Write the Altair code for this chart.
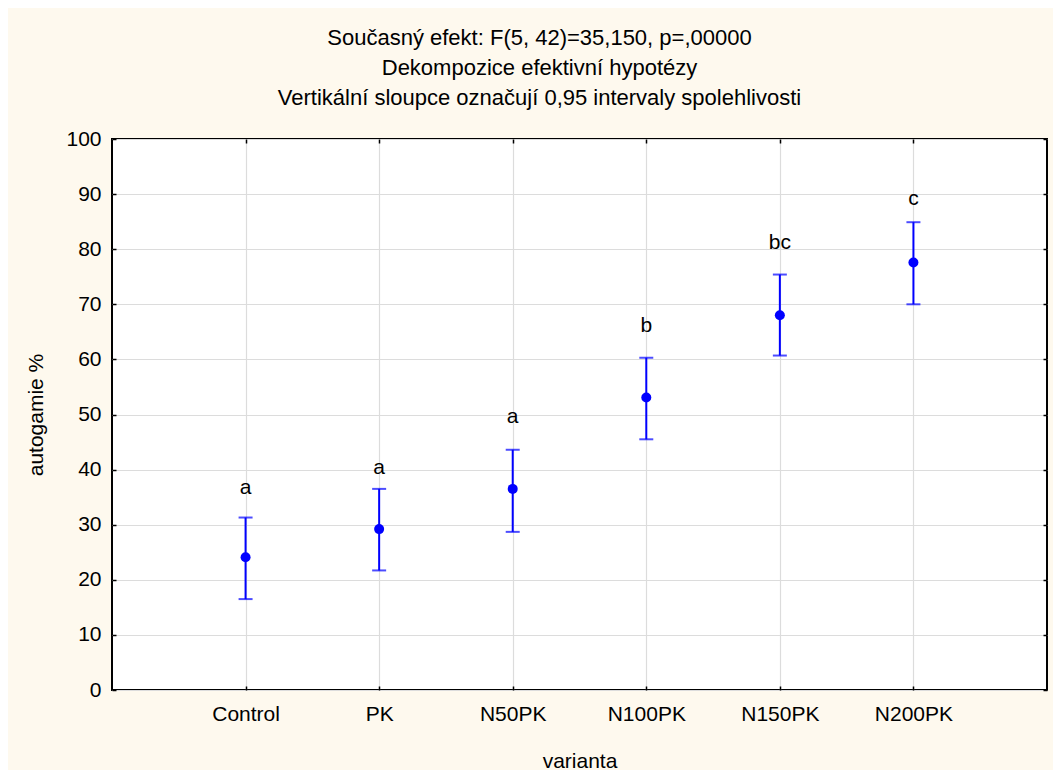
import altair as alt
import pandas as pd

categories = ["Control", "PK", "N50PK", "N100PK", "N150PK", "N200PK"]
means = [24.1, 29.2, 36.5, 53.1, 68.0, 77.6]
lower = [16.5, 21.7, 28.7, 45.5, 60.7, 70.0]
upper = [31.3, 36.5, 43.6, 60.3, 75.4, 84.9]
letters = ["a", "a", "a", "b", "bc", "c"]
letter_y = [36.7, 40.3, 49.6, 66.1, 81.1, 89.2]
y_ticks = [0, 10, 20, 30, 40, 50, 60, 70, 80, 90, 100]
title_lines = [
    "Současný efekt: F(5, 42)=35,150, p=,00000",
    "Dekompozice efektivní hypotézy",
    "Vertikální sloupce označují 0,95 intervaly spolehlivosti",
]

df = pd.DataFrame({
    "varianta": categories,
    "mean": means,
    "lo": lower,
    "hi": upper,
    "letter": letters,
    "ly": letter_y,
})

FONT = "Liberation Sans"
FS = 21
BLUE = "#0000FF"

xscale = alt.Scale(type="point", padding=1)
yscale = alt.Scale(domain=[0, 100], nice=False, zero=False)

base = alt.Chart(df)

# gridlines layer
grid = base.mark_point(opacity=0).encode(
    x=alt.X("varianta:N", sort=categories, scale=xscale,
            axis=alt.Axis(orient="bottom", grid=True, labels=False, ticks=False,
                          domain=False, title=None, gridColor="#DCDCDC", gridWidth=1.2)),
    y=alt.Y("mean:Q", scale=yscale,
            axis=alt.Axis(orient="left", grid=True, labels=False, ticks=False,
                          domain=False, title=None, values=y_ticks,
                          gridColor="#DCDCDC", gridWidth=1.2)),
)

# main axes + error bar stems
stems = base.mark_rule(color=BLUE, strokeWidth=2).encode(
    x=alt.X("varianta:N", sort=categories, scale=xscale,
            axis=alt.Axis(orient="bottom", grid=False, domain=False, offset=-4,
                          tickSize=4, tickWidth=1.5, tickColor="black",
                          labelAngle=0, labelPadding=13, labelFont=FONT,
                          labelFontSize=FS, labelColor="black",
                          title="varianta", titleFont=FONT, titleFontSize=FS,
                          titleFontWeight="normal", titleColor="black",
                          titlePadding=26)),
    y=alt.Y("lo:Q", scale=yscale,
            axis=alt.Axis(orient="left", grid=False, domain=False, offset=-4,
                          values=y_ticks, tickSize=4, tickWidth=1.5,
                          tickColor="black", labelPadding=11, labelFont=FONT,
                          labelFontSize=FS, labelColor="black",
                          title="autogamie %", titleFont=FONT, titleFontSize=FS,
                          titleFontWeight="normal", titleColor="black",
                          titlePadding=19)),
    y2="hi:Q",
)

# mirror ticks on top and right
mirror = base.mark_point(opacity=0).encode(
    x=alt.X("varianta:N", sort=categories, scale=xscale,
            axis=alt.Axis(orient="top", grid=False, domain=False, offset=-4,
                          labels=False, tickSize=4, tickWidth=1.5,
                          tickColor="black", title=None)),
    y=alt.Y("mean:Q", scale=yscale,
            axis=alt.Axis(orient="right", grid=False, domain=False, offset=-4,
                          values=y_ticks, labels=False, tickSize=4,
                          tickWidth=1.5, tickColor="black", title=None)),
)

cap_lo = base.mark_tick(color=BLUE, orient="horizontal", size=14, thickness=2).encode(
    x=alt.X("varianta:N", sort=categories, scale=xscale, axis=None),
    y=alt.Y("lo:Q", scale=yscale, axis=None),
)
cap_hi = base.mark_tick(color=BLUE, orient="horizontal", size=14, thickness=2).encode(
    x=alt.X("varianta:N", sort=categories, scale=xscale, axis=None),
    y=alt.Y("hi:Q", scale=yscale, axis=None),
)
points = base.mark_circle(color=BLUE, opacity=1, size=100).encode(
    x=alt.X("varianta:N", sort=categories, scale=xscale, axis=None),
    y=alt.Y("mean:Q", scale=yscale, axis=None),
)
labels = base.mark_text(font=FONT, fontSize=FS, color="black",
                        align="center", baseline="middle").encode(
    x=alt.X("varianta:N", sort=categories, scale=xscale, axis=None),
    y=alt.Y("ly:Q", scale=yscale, axis=None),
    text="letter:N",
)

chart = alt.layer(grid, stems, mirror, cap_lo, cap_hi, points, labels).resolve_axis(
    x="independent", y="independent"
).properties(
    width=935,
    height=551,
    autosize="none",
    padding={"left": 104, "top": 131, "right": 6, "bottom": 80},
    background="#FEF9EE",
    title=alt.TitleParams(
        text=title_lines, font=FONT, fontSize=22, fontWeight="normal",
        color="black", anchor="middle", frame="group", lineHeight=30,
        offset=18, dx=-40,
    ),
).configure_view(
    fill="white", stroke="black", strokeWidth=2
)

chart.save("out.html", embed_options={"renderer": "svg", "actions": False})
